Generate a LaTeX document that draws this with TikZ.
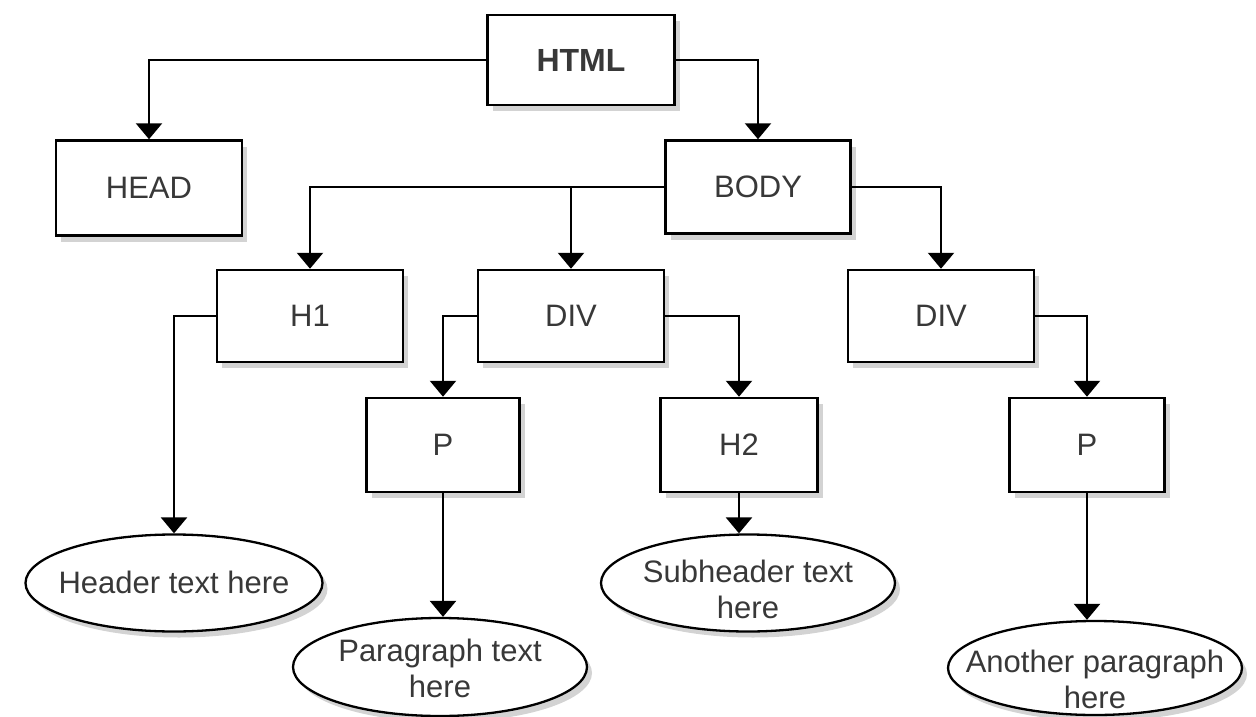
\documentclass[tikz,border=0pt]{standalone}
\usepackage{fontspec}
\setmainfont{Liberation Sans}
\usetikzlibrary{shapes.geometric,arrows.meta,shadows}
\newcommand\ovaltext[2]{\makebox[0pt]{\raisebox{#1}[0pt][0pt]{\begin{tabular}{@{}c@{}}#2\end{tabular}}}}
\tikzset{
  box/.style={draw=black, line width=2.5pt, fill=white, rectangle, minimum width=186pt, minimum height=92pt, inner sep=0pt, font=\fontsize{31}{36}\selectfont, text=black!78, drop shadow={opacity=0.35, shadow xshift=5pt, shadow yshift=-6pt}},
  sbox/.style={box, minimum width=153pt},
  oval/.style={draw=black, line width=2.3pt, fill=white, ellipse, inner sep=0pt, minimum width=294pt, minimum height=97pt, font=\fontsize{31}{36}\selectfont, text=black!78, drop shadow={opacity=0.35, shadow xshift=5pt, shadow yshift=-6pt}},
  arr/.style={line width=2.5pt, -{Triangle[width=26pt,length=16pt]}},
}
\begin{document}
\begin{tikzpicture}[x=1pt,y=-1pt]
\useasboundingbox (0,0) rectangle (1256,717);
\node[box, minimum width=187pt, minimum height=90pt, font=\fontsize{32}{36}\selectfont\bfseries] (html) at (581,60) {HTML};
\node[box, minimum height=95pt] (head) at (149,188) {HEAD};
\node[box, minimum width=185pt, minimum height=93pt] (body) at (758,187) {BODY};
\node[box] (h1) at (310,316) {H1};
\node[box] (div1) at (571,316) {DIV};
\node[box] (div2) at (941,316) {DIV};
\node[sbox, minimum height=94pt] (p1) at (443,445) {P};
\node[sbox, minimum width=157pt, minimum height=94pt] (h2) at (739,445) {H2};
\node[sbox, minimum width=155pt, minimum height=94pt] (p2) at (1087,445) {P};
\node[oval, minimum width=297pt] (e1) at (174,583) {\ovaltext{-10pt}{Header text here}};
\node[oval, minimum height=98pt] (e2) at (440,667) {\ovaltext{-12pt}{Paragraph text\\here}};
\node[oval] (e3) at (748,583) {\ovaltext{-17pt}{Subheader text\\here}};
\node[oval, minimum height=94pt] (e4) at (1095,668) {\ovaltext{-22pt}{Another paragraph\\here}};

\draw[arr] (html.west) -| (head.north);
\draw[arr] (html.east) -| (body.north);
\draw[arr] (body.west) -| (h1.north);
\draw[arr] (body.west -| div1.north) -- (div1.north);
\draw[arr] (body.east) -| (div2.north);
\draw[arr] (h1.west) -| (e1.north);
\draw[arr] (div1.west) -| (p1.north);
\draw[arr] (div1.east) -| (h2.north);
\draw[arr] (div2.east) -| (p2.north);
\draw[arr] (p1.south) -- (p1.south |- e2.north);
\draw[arr] (h2.south) -- (h2.south |- e3.north);
\draw[arr] (p2.south) -- (p2.south |- e4.north);
\end{tikzpicture}
\end{document}
